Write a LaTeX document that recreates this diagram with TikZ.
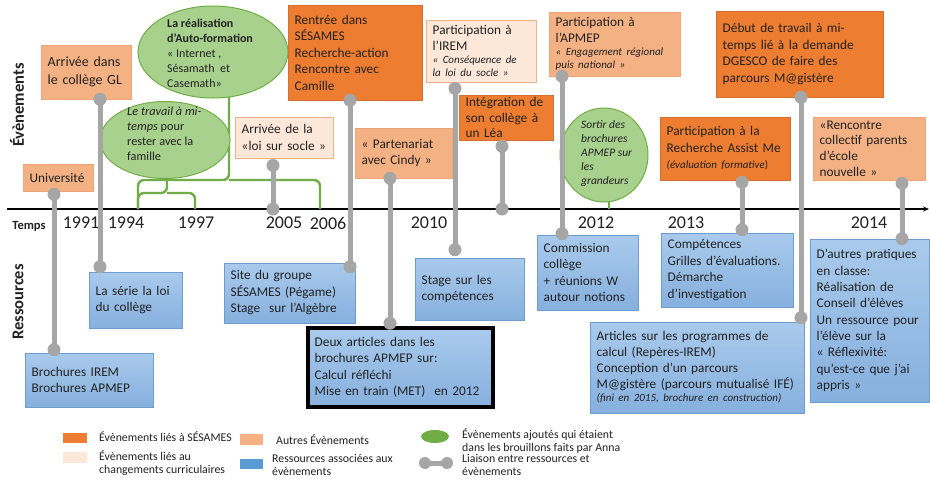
\documentclass[tikz,border=0pt]{standalone}
\usepackage{fontspec}
\setmainfont{Carlito}
\usetikzlibrary{shapes.geometric,arrows.meta,calc}

\definecolor{sesames}{HTML}{ED7D31}
\definecolor{autres}{HTML}{F4B183}
\definecolor{autresline}{HTML}{EFA577}
\definecolor{curric}{HTML}{FCE7D9}
\definecolor{resTop}{HTML}{A9CAEC}
\definecolor{resBot}{HTML}{86B0DE}
\definecolor{resLine}{HTML}{6F9CCF}
\definecolor{resLegend}{HTML}{5B9BD5}
\definecolor{greenFill}{HTML}{A9D18E}
\definecolor{greenLine}{HTML}{70AD47}
\definecolor{linkc}{HTML}{A6A6A6}
\definecolor{ink}{HTML}{222222}

\tikzset{
  boxshape/.style={rectangle, inner sep=0pt},
  boxtext/.style={anchor=west, align=left, inner sep=0pt, text=ink,
    font=\fontsize{13.3}{16.5}\selectfont},
  sesbox/.style={fill=sesames, draw=sesames!90!black, line width=0.5pt},
  autbox/.style={fill=autres, draw=autresline, line width=0.6pt},
  curbox/.style={fill=curric, draw=autres, line width=0.8pt},
  resbox/.style={top color=resTop, bottom color=resBot, draw=resLine, line width=0.6pt},
  greenell/.style={ellipse, fill=greenFill, draw=greenLine, line width=1pt, inner sep=0pt},
  ellText/.style={align=left, anchor=north west, inner sep=0pt, text=ink,
    font=\fontsize{12.3}{15}\selectfont},
  link/.style={draw=linkc, line width=5pt},
  brace/.style={draw=greenLine, line width=2.4pt, rounded corners=6pt},
  year/.style={font=\fontsize{18}{20}\selectfont, text=ink},
  legendtext/.style={anchor=west, align=left, inner sep=0pt, text=ink,
    font=\fontsize{11.8}{13}\selectfont},
  sidelabel/.style={rotate=90, font=\fontsize{16.5}{18}\selectfont\bfseries, text=ink},
}

% box from corner (x1,y1) to (x2,y2); #3 = fill style, #8 = text
\newcommand\evbox[8][]{%
  \pgfmathsetmacro\boxW{#6-#4}%
  \pgfmathsetmacro\boxH{#7-#5}%
  \pgfmathsetmacro\boxT{#6-#4+40}%
  \node[boxshape,#3,minimum width=\boxW pt,minimum height=\boxH pt]
    (#2) at ({(#4+#6)/2},{(#5+#7)/2}) {};
  \node[boxtext,text width=\boxT pt,#1] (#2-t) at ({#4+6.5},{(#5+#7)/2}) {#8};}

% grey link between two boxes at abscissa #3; #4, #5 = offsets of the two dots
\newcommand\boxlink[5]{%
  \coordinate (lk) at (#3,0);
  \coordinate (lkA) at ($(#1.south -| lk)+(0,#4)$);
  \coordinate (lkB) at ($(#2.north -| lk)+(0,#5)$);
  \draw[link] (lkA) -- (lkB);
  \fill[linkc] (lkA) circle (6.5pt) (lkB) circle (6.5pt);}

\newcommand\smallit{\fontsize{11}{13}\selectfont\itshape}

\begin{document}
\begin{tikzpicture}[x=1pt,y=-1pt]
\useasboundingbox (0,0) rectangle (930,480);
\fill[white] (0,0) rectangle (930,480);

% side labels
\node[sidelabel] (lblEv) at (17,105) {Évènements};
\node[sidelabel] (lblRes) at (18,302) {Ressources};
\node[font=\fontsize{12.5}{14}\selectfont\bfseries, text=ink] (lblTemps) at (29,226) {Temps};

% time axis
\coordinate (axL) at (7,209);
\coordinate (axR) at (929,209);
\draw[line width=1.4pt, -{Stealth[length=6pt,width=5pt]}] (axL) -- (axR);

% years
\node[year] (y1991) at (81,223) {1991};
\node[year] (y1994) at (126,223) {1994};
\node[year] (y1997) at (196,223) {1997};
\node[year] (y2005) at (284,223) {2005};
\node[year] (y2006) at (328,223) {2006};
\node[year] (y2010) at (429,223) {2010};
\node[year] (y2012) at (596,223) {2012};
\node[year] (y2013) at (686,223) {2013};
\node[year] (y2014) at (869,223) {2014};

% green brackets below the added events
\coordinate (bL) at (138,209);
\coordinate (bR) at (320,209);
\coordinate (bM) at (195,209);
\draw[brace] (bL) -- (138,180) -- (229,180) -- (229,92);
\draw[brace] (bR) -- (320,180) -- (229,180);
\draw[brace] (bL) -- (138,193) -- (167,193) -- (167,172);
\draw[brace] (bM) -- (195,193) -- (167,193);
\draw[brace] (609,196) -- (609,209);

% added events (green)
\node[greenell, minimum width=150pt, minimum height=92pt] (auto) at (213,52) {};
\node[ellText, font=\fontsize{12}{15}\selectfont] (autoT) at (167,19) {\textbf{La réalisation}\\\textbf{d’Auto-formation}\\« Internet ,\\Sésamath~ et\\Casemath»};
\node[greenell, minimum width=130pt, minimum height=77pt] (travail) at (165,140) {};
\node[ellText] (travailT) at (127,107) {\textit{Le travail à mi-}\\\textit{temps} pour\\rester avec la\\famille};
\node[greenell, minimum width=88pt, minimum height=94pt] (sortir) at (604,155) {};
\node[ellText, font=\fontsize{11.5}{14}\selectfont\itshape] (sortirT) at (581,120) {Sortir des\\brochures\\APMEP sur\\les\\grandeurs};

% events
\evbox{univ}{autbox}{23}{164}{93}{191}{Université}
\evbox[font=\fontsize{14}{18}\selectfont]{arrivee}{autbox}{41}{45}{131}{99}{Arrivée dans\\le collège GL}
\evbox{loi}{curbox}{235}{117}{333}{158}{Arrivée de la\\«loi sur socle »}
\evbox{rentree}{sesbox}{288}{5}{422}{100}{Rentrée dans\\SÉSAMES\\Recherche-action\\Rencontre avec\\Camille}
\evbox{cindy}{autbox}{355}{128}{452}{178}{« Partenariat\\avec Cindy »}
\evbox{irem}{curbox}{426}{20}{536}{82}{Participation à\\l’IREM\par{\smallit « Conséquence de\\la loi du socle »\par}}
\evbox[font=\fontsize{13.3}{15.5}\selectfont]{integ}{sesbox}{459}{95}{553}{140}{Intégration de\\son collège à\\un Léa}
\evbox{apmep}{autbox}{549}{12}{680}{76}{Participation à\\l’APMEP\par{\smallit « Engagement régional\\puis national »\par}}
\evbox{assist}{sesbox}{660}{117}{790}{180}{Participation à la\\Recherche Assist Me\par{\smallit (évaluation formative\/}{\fontsize{11}{13}\selectfont)}\par}
\evbox{debut}{sesbox}{716}{11}{883}{97}{Début de travail à mi-\\temps lié à la demande\\DGESCO de faire des\\parcours M@gistère}
\evbox[font=\fontsize{13.3}{15.7}\selectfont]{rencontre}{autbox}{813}{117}{925}{180}{«Rencontre\\collectif parents\\d’école\\nouvelle »}

% resources
\evbox{broch}{resbox}{25}{353}{153}{407}{Brochures IREM\\Brochures APMEP}
\evbox{serie}{resbox}{89}{272}{182}{328}{La série la loi\\du collège}
\evbox{site}{resbox}{224}{263}{355}{323}{Site du groupe\\SÉSAMES (Pégame)\\Stage~ sur l’Algèbre}
\evbox{deux}{resbox,draw=black,line width=3.5pt}{308}{328}{493}{407}{Deux articles dans les\\brochures APMEP sur:\\Calcul réfléchi\\Mise en train (MET)~ en 2012}
\evbox{stage}{resbox}{415}{258}{524}{320}{Stage sur les\\compétences}
\evbox{comm}{resbox}{537}{235}{638}{310}{Commission\\collège\\+ réunions W\\autour notions}
\evbox{comp}{resbox}{661}{233}{793}{307}{Compétences\\Grilles d’évaluations.\\Démarche\\d’investigation}
\evbox[font=\fontsize{13.3}{16}\selectfont]{artic}{resbox}{590}{322}{804}{413}{Articles sur les programmes de\\calcul (Repères-IREM)\\Conception d’un parcours\\M@gistère (parcours mutualisé IFÉ)\par{\fontsize{11}{13}\selectfont\itshape (fini en 2015, brochure en construction)\par}}
\evbox[font=\fontsize{13.3}{16.3}\selectfont]{autres}{resbox}{810}{239}{929}{402}{D’autres pratiques\\en classe:\\Réalisation de\\Conseil d’élèves\\Un ressource pour\\l’élève sur la\\« Réflexivité:\\qu’est-ce que j’ai\\appris »}

% links between events and resources
\boxlink{univ}{broch}{54}{3}{-3}
\boxlink{arrivee}{serie}{100}{0}{-5}
\boxlink{rentree}{site}{350}{0}{4}
\boxlink{cindy}{deux}{390}{0}{-3}
\boxlink{irem}{stage}{455}{6}{-8}
\boxlink{apmep}{comm}{562}{0}{-1}
\boxlink{assist}{comp}{742}{2}{-3}
\boxlink{debut}{artic}{801}{0}{-4}
\boxlink{rencontre}{autres}{902}{3}{0}

% links from events down to the time axis
\coordinate (t2005) at (273,209);
\coordinate (tLea) at (502,209);
\coordinate (d2005) at ($(loi.south -| t2005)+(0,7)$);
\coordinate (dLea) at ($(integ.south -| tLea)+(0,6)$);
\draw[link] (d2005) -- (t2005);
\fill[linkc] (d2005) circle (6.5pt) (t2005) circle (6.5pt);
\draw[link] (dLea) -- (tLea);
\fill[linkc] (dLea) circle (6.5pt) (tLea) circle (6.5pt);

% legend
\node[fill=sesames, minimum width=24pt, minimum height=10pt, inner sep=0pt] (lgSes) at (75,438) {};
\node[legendtext] (lgSesT) at (99,437) {Évènements liés à SÉSAMES};
\node[fill=autres, minimum width=23pt, minimum height=11pt, inner sep=0pt] (lgAut) at (251.5,439.5) {};
\node[legendtext] (lgAutT) at (276,440) {Autres Évènements};
\node[fill=curric, minimum width=24pt, minimum height=11pt, inner sep=0pt] (lgCur) at (75,457.5) {};
\node[legendtext] (lgCurT) at (99,463) {Évènements liés au\\changements curriculaires};
\node[fill=resLegend, minimum width=23pt, minimum height=10pt, inner sep=0pt] (lgRes) at (251.5,464) {};
\node[legendtext] (lgResT) at (272,464.5) {Ressources associées aux\\évènements};
\node[ellipse, fill=greenLine, minimum width=28pt, minimum height=13pt, inner sep=0pt] (lgGreen) at (435,436.5) {};
\node[legendtext] (lgGreenT) at (462,441) {Évènements ajoutés qui étaient\\dans les brouillons faits par Anna};
\coordinate (lgDotA) at (425,463);
\coordinate (lgDotB) at (447,463);
\draw[link] (lgDotA) -- (lgDotB);
\fill[linkc] (lgDotA) circle (6pt) (lgDotB) circle (6pt);
\node[legendtext] (lgLinkT) at (462,465) {Liaison entre ressources et\\évènements};
\end{tikzpicture}
\end{document}
